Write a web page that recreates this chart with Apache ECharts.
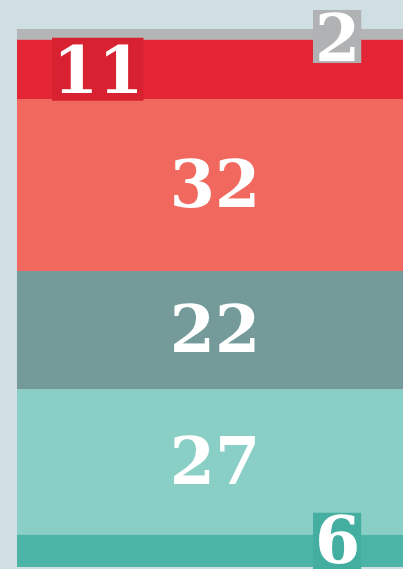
<!DOCTYPE html>
<html>
<head>
<meta charset="utf-8">
<style>
  html, body { margin: 0; padding: 0; background: #cfdfe3; }
  #chart { width: 403px; height: 569px; }
</style>
<script src="https://cdn.jsdelivr.net/npm/echarts@6/dist/echarts.min.js"></script>
</head>
<body>
<div id="chart"></div>
<script>
// Segments listed from top to bottom
const categories = ['total'];
const segmentNames = ['a', 'b', 'c', 'd', 'e', 'f'];
const segmentValues = [2, 11, 32, 22, 27, 6];
const segmentColors = ['#b4b5b6', '#e42536', '#f1685e', '#749a9a', '#89cfc5', '#4bb4a7'];

const labelFont = {
  color: '#ffffff',
  fontFamily: 'DejaVu Serif',
  fontWeight: 'bold',
  fontSize: 65
};

const labelSpecs = [
  { position: [296, -19], backgroundColor: '#b0b2b3', padding: [16, 1, 0, 2], lineHeight: 37 },
  { position: [35, -2], backgroundColor: '#d82232', padding: [13, 0, 0, 1], lineHeight: 50 },
  { position: 'inside', offset: [5, 5] },
  { position: 'inside', offset: [5, 5] },
  { position: 'inside', offset: [5, 5] },
  { position: [296, -22], backgroundColor: '#44aea1', padding: [9, 1, 0, 2], lineHeight: 49 }
];

const series = segmentValues.map((v, i) => ({
  name: segmentNames[i],
  type: 'bar',
  stack: 'all',
  barWidth: '100%',
  data: [v],
  itemStyle: { color: segmentColors[i] },
  silent: true,
  label: Object.assign({ show: true }, labelFont, labelSpecs[i])
}));

const chart = echarts.init(document.getElementById('chart'));
chart.setOption({
  backgroundColor: '#cfdfe3',
  animation: false,
  grid: { left: 17, right: 0, top: 29, bottom: 2, containLabel: false },
  xAxis: {
    type: 'category',
    data: categories,
    show: false
  },
  yAxis: {
    type: 'value',
    min: 0,
    max: 100,
    inverse: true,
    show: false
  },
  series: series
});
</script>
</body>
</html>
